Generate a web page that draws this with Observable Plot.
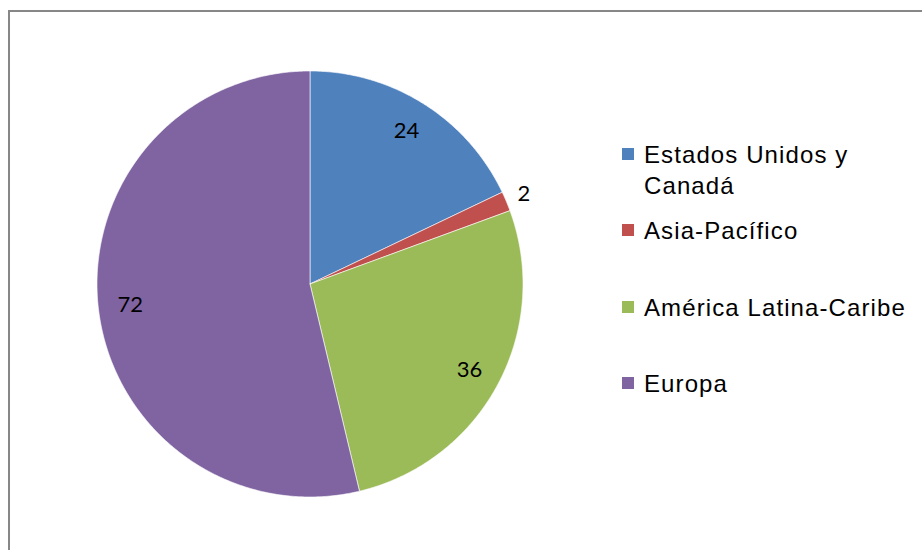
<!DOCTYPE html>
<html>
<head>
<meta charset="utf-8">
<script src="https://cdn.jsdelivr.net/npm/d3@7"></script>
<script src="https://cdn.jsdelivr.net/npm/@observablehq/plot@0.6"></script>
<style>
  html, body { margin: 0; padding: 0; background: #fff; overflow: hidden; width: 922px; height: 550px; }
  #wrap { position: relative; width: 922px; height: 550px; }
  #frame { position: absolute; left: 8px; top: 10px; width: 1000px; height: 1000px; border: 2px solid #878787; box-sizing: border-box; }
  #chart { position: absolute; left: 0; top: 0; }
  .item { position: absolute; left: 622px; font-family: "Liberation Sans", Arial, sans-serif; font-size: 24px; line-height: 31px; letter-spacing: 1.1px; color: #000; }
  .item .sw { position: absolute; left: 0; width: 12px; height: 12px; }
  .item .lab { position: absolute; left: 22px; white-space: nowrap; }
</style>
</head>
<body>
<div id="wrap">
  <div id="frame"></div>
  <div id="chart"></div>
  <div id="legend"></div>
</div>
<script>
const categories = ["Estados Unidos y Canadá", "Asia-Pacífico", "América Latina-Caribe", "Europa"];
const legendLines = [["Estados Unidos y", "Canadá"], ["Asia-Pacífico"], ["América Latina-Caribe"], ["Europa"]];
const values = [24, 2, 36, 72];
const colors = ["#4F81BD", "#C0504D", "#9BBB59", "#8064A2"];

const total = d3.sum(values);
const arcs = d3.pie().sort(null).value(d => d)(values);

// slice outlines in unit-circle coordinates (y up), built from the pie angles
const slicePts = [];
arcs.forEach((a, i) => {
  const cat = categories[i];
  slicePts.push({cat, x: 0, y: 0});
  const n = Math.max(2, Math.ceil((a.endAngle - a.startAngle) / 0.01));
  for (let k = 0; k <= n; k++) {
    const t = a.startAngle + (a.endAngle - a.startAngle) * k / n;
    slicePts.push({cat, x: Math.sin(t), y: Math.cos(t)});
  }
  slicePts.push({cat, x: 0, y: 0});
});

const labels = arcs.map((a, i) => {
  const mid = (a.startAngle + a.endAngle) / 2;
  const r = values[i] / total < 0.05 ? 1.09 : 0.85;
  return {cat: categories[i], v: values[i], x: Math.sin(mid) * r, y: Math.cos(mid) * r};
});

const cx = 309.5, cy = 283.5, R = 213;
const chart = Plot.plot({
  width: 922,
  height: 550,
  margin: 0,
  x: {domain: [-1, 1], range: [cx - R, cx + R], axis: null},
  y: {domain: [-1, 1], range: [cy + R, cy - R], axis: null},
  color: {domain: categories, range: colors},
  marks: [
    Plot.line(slicePts, {x: "x", y: "y", z: "cat", fill: "cat", stroke: "white", strokeWidth: 0.6, curve: "linear"}),
    Plot.text(labels, {x: "x", y: "y", text: d => String(d.v), fill: "#000", fontSize: 22, fontFamily: "Lato, 'Open Sans', sans-serif"})
  ]
});
document.getElementById("chart").appendChild(chart);

const tops = [138.6, 214.6, 291.6, 367.6];
const legend = document.getElementById("legend");
categories.forEach((c, i) => {
  const it = document.createElement("div");
  it.className = "item";
  it.style.top = tops[i] + "px";
  const sw = document.createElement("div");
  sw.className = "sw";
  sw.style.background = colors[i];
  sw.style.top = "9.5px";
  const lab = document.createElement("div");
  lab.className = "lab";
  lab.innerHTML = legendLines[i].join("<br>");
  it.appendChild(sw);
  it.appendChild(lab);
  legend.appendChild(it);
});
</script>
</body>
</html>
